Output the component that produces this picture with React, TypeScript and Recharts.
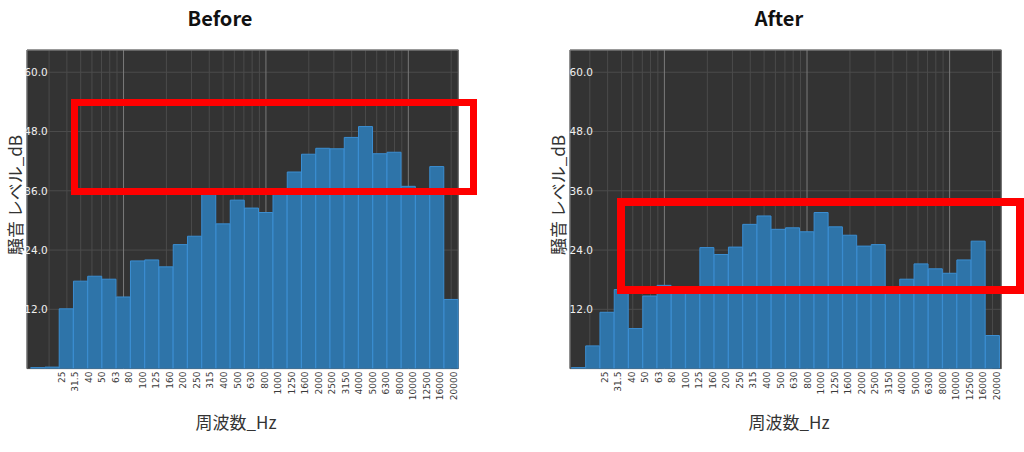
import React from 'react';
import {
  BarChart,
  Bar,
  XAxis,
  YAxis,
  CartesianGrid,
  ReferenceLine,
  ReferenceArea,
} from 'recharts';

// ---- data ----
const bandLabels = [
  '25', '31.5', '40', '50', '63', '80', '100', '125', '160', '200',
  '250', '315', '400', '500', '630', '800', '1000', '1250', '1600', '2000',
  '2500', '3150', '4000', '5000', '6300', '8000', '10000', '12500', '16000', '20000',
];
const bandHz = [
  25, 31.5, 40, 50, 63, 80, 100, 125, 160, 200,
  250, 315, 400, 500, 630, 800, 1000, 1250, 1600, 2000,
  2500, 3150, 4000, 5000, 6300, 8000, 10000, 12500, 16000, 20000,
];
const beforeLevels = [
  0.2, 0.3, 12.1, 17.7, 18.7, 18.1, 14.5, 21.8, 22.0, 20.6,
  25.1, 26.8, 35.5, 29.3, 34.1, 32.5, 31.6, 35.5, 39.8, 43.4,
  44.6, 44.5, 46.8, 49.0, 43.5, 43.8, 36.9, 36.0, 40.9, 14.0,
];
const afterLevels = [
  0.2, 4.6, 11.4, 16.0, 8.1, 14.7, 16.85, 16.2, 16.2, 24.5,
  23.1, 24.6, 29.2, 30.9, 28.2, 28.5, 27.7, 31.6, 28.7, 27.0,
  24.8, 25.1, 16.0, 18.1, 21.2, 20.2, 19.3, 22.0, 25.8, 6.7,
];
const yTicks = [12, 24, 36, 48, 60];
const yMax = 64.5;
const minorGridHz = [
  30, 40, 50, 60, 70, 80, 90,
  200, 300, 400, 500, 600, 700, 800, 900,
  2000, 3000, 4000, 5000, 6000, 7000, 8000, 9000, 20000,
];
const majorGridHz = [100, 1000, 10000];

// 1/3-octave band edges
const halfBand = Math.pow(10, 0.05);
const logLo = bandHz[0] / halfBand;
const logHi = bandHz[bandHz.length - 1] * halfBand;

const buildRows = (levels: number[]) =>
  bandLabels.map((label, i) => ({ label, hz: bandHz[i], level: levels[i] }));

const TICK_FONT = '"DejaVu Sans", sans-serif';
const CJK_FONT = '"Noto Sans CJK JP", "Noto Sans", sans-serif';

const XTick = (props: any) => {
  const { x, y, payload } = props;
  const yy = y + 3;
  return (
    <text
      x={x}
      y={yy}
      transform={`rotate(-90, ${x}, ${yy})`}
      textAnchor="end"
      dominantBaseline="central"
      fontSize={9}
      fontFamily={TICK_FONT}
      fill="#3a3a3a"
    >
      {payload.value}
    </text>
  );
};

type PanelProps = {
  levels: number[];
  barPad: { left: number; right: number };
};

const Panel = ({ levels, barPad }: PanelProps) => {
  const rows = buildRows(levels);
  return (
    <BarChart
      width={480}
      height={452}
      data={rows}
      margin={{ top: 50, left: 27, right: 21.7, bottom: 43.4 }}
      barCategoryGap={0}
      barGap={0}
    >
      <CartesianGrid vertical={false} stroke="#4b4b4b" fill="#333333" />
      <CartesianGrid xAxisId="log" horizontal={false} stroke="#4b4b4b" />
      <CartesianGrid xAxisId="logMajor" horizontal={false} stroke="#7a7a7a" />
      <XAxis dataKey="label" hide height={0} padding={barPad} />
      <XAxis
        xAxisId="log"
        type="number"
        scale="log"
        dataKey="hz"
        domain={[logLo, logHi]}
        ticks={minorGridHz}
        interval={0}
        allowDataOverflow
        hide
        height={0}
        padding={barPad}
      />
      <XAxis
        xAxisId="logMajor"
        type="number"
        scale="log"
        dataKey="hz"
        domain={[logLo, logHi]}
        ticks={majorGridHz}
        interval={0}
        allowDataOverflow
        hide
        height={0}
        padding={barPad}
      />
      <XAxis
        xAxisId="lbl"
        dataKey="label"
        scale="point"
        padding={{ left: 34.7, right: 4.3 }}
        height={40}
        tickLine={false}
        axisLine={false}
        tickSize={0}
        tickMargin={0}
        interval={0}
        tick={<XTick />}
      />
      <YAxis width={0} hide domain={[0, yMax]} ticks={yTicks} allowDataOverflow />
      <ReferenceLine y={yMax} stroke="#8c8c8c" strokeWidth={1} />
      <Bar
        dataKey="level"
        fill="#2e74a9"
        stroke="#3b8ed2"
        strokeWidth={1}
        isAnimationActive={false}
      />
      <ReferenceArea
        xAxisId="log"
        x1={bandHz[bandHz.length - 1]}
        x2={logHi}
        y1={0}
        y2={levels[levels.length - 1]}
        fill="#000000"
        fillOpacity={0.38}
        stroke="none"
        ifOverflow="visible"
      />
      {yTicks.map((t) => (
        <ReferenceLine
          key={`yt${t}`}
          y={t}
          stroke="none"
          label={{
            value: t.toFixed(1),
            position: 'insideLeft',
            offset: 1 - barPad.left,
            fill: '#f0f0f0',
            fontSize: 10.5,
            fontFamily: TICK_FONT,
          }}
        />
      ))}
    </BarChart>
  );
};

const centerText = (
  text: string,
  cx: number,
  cy: number,
  style: React.CSSProperties,
  rotate = 0,
) => (
  <div
    style={{
      position: 'absolute',
      left: cx,
      top: cy,
      transform: `translate(-50%, -50%) rotate(${rotate}deg)`,
      whiteSpace: 'nowrap',
      lineHeight: 1,
      ...style,
    }}
  >
    {text}
  </div>
);

const titleStyle: React.CSSProperties = {
  fontFamily: CJK_FONT,
  fontWeight: 700,
  fontSize: 20,
  color: '#111111',
};
const axisTitleStyle: React.CSSProperties = {
  fontFamily: CJK_FONT,
  fontSize: 17,
  color: '#333333',
};

export default function App() {
  return (
    <div
      style={{
        position: 'absolute',
        left: 0,
        top: 0,
        width: 1024,
        height: 452,
        background: '#ffffff',
        overflow: 'hidden',
      }}
    >
      <div style={{ position: 'absolute', left: 0, top: 0 }}>
        <Panel levels={beforeLevels} barPad={{ left: 3.7, right: 0 }} />
      </div>
      <div style={{ position: 'absolute', left: 543, top: 0 }}>
        <Panel levels={afterLevels} barPad={{ left: 1.4, right: 1.6 }} />
      </div>

      {centerText('Before', 220, 18, titleStyle)}
      {centerText('After', 779, 18, titleStyle)}

      {centerText('騒音 レベル_dB', 14, 195, axisTitleStyle, -90)}
      {centerText('騒音 レベル_dB', 557, 195, axisTitleStyle, -90)}

      {centerText('周波数_Hz', 236, 421, axisTitleStyle)}
      {centerText('周波数_Hz', 789, 421, axisTitleStyle)}

      <div
        style={{
          position: 'absolute',
          left: 70.7,
          top: 99,
          width: 406,
          height: 96,
          border: '7.5px solid #ff0000',
          boxSizing: 'border-box',
        }}
      />
      <div
        style={{
          position: 'absolute',
          left: 617.3,
          top: 197.7,
          width: 406.7,
          height: 96.3,
          border: '8px solid #ff0000',
          boxSizing: 'border-box',
        }}
      />
    </div>
  );
}
